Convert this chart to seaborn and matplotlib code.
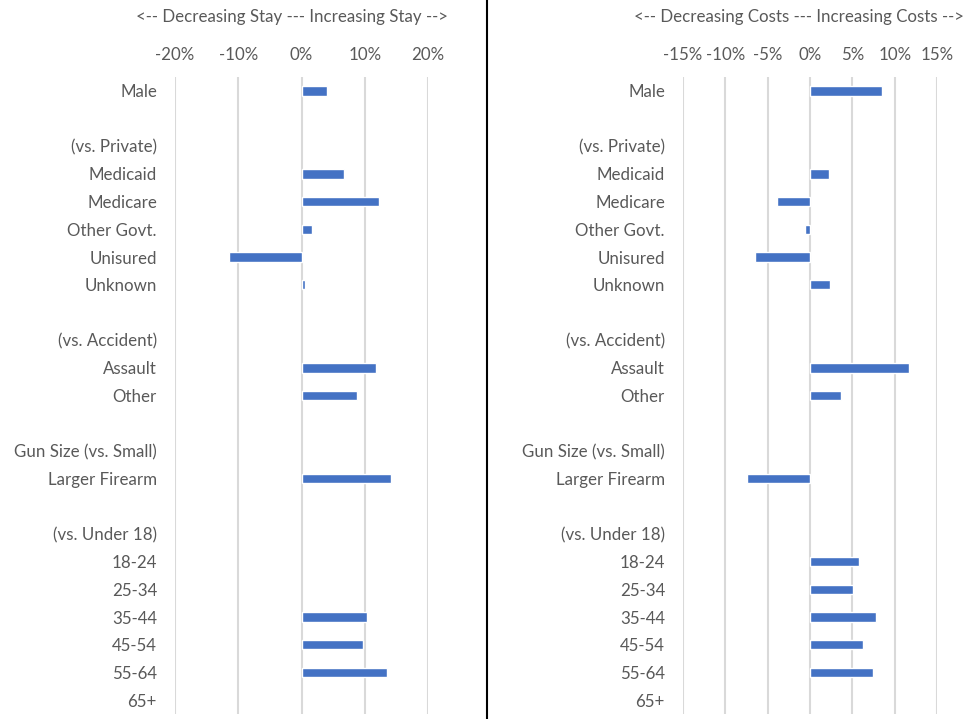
"""
Stay vs. cost effects — two horizontal bar panels
"""
import numpy as np
import pandas as pd
import matplotlib
matplotlib.use('Agg')
import matplotlib.pyplot as plt
import seaborn as sns
from matplotlib.lines import Line2D
from matplotlib.ticker import PercentFormatter

# row labels (blank rows need unique names)
labels = ['Male', ' ', '(vs. Private)', 'Medicaid', 'Medicare', 'Other Govt.',
          'Unisured', 'Unknown', '  ', '(vs. Accident)', 'Assault', 'Other',
          '   ', 'Gun Size (vs. Small)', 'Larger Firearm', '    ',
          '(vs. Under 18)', '18-24', '25-34', '35-44', '45-54', '55-64', '65+']

nan = np.nan
stay = [4.1, nan, nan, 6.7, 12.3, 1.6, -11.4, 0.5, nan, nan, 11.8, 8.7,
        nan, nan, 14.2, nan, nan, nan, nan, 10.3, 9.8, 13.5, nan]
costs = [8.5, nan, nan, 2.3, -3.9, -0.6, -6.5, 2.4, nan, nan, 11.7, 3.7,
         nan, nan, -7.4, nan, nan, 5.8, 5.1, 7.8, 6.3, 7.4, nan]

stay_ticks = [-20, -10, 0, 10, 20]
cost_ticks = [-15, -10, -5, 0, 5, 10, 15]

sns.set_style('white')
plt.rcParams['font.family'] = ['Lato', 'DejaVu Sans']
plt.rcParams['axes.unicode_minus'] = False

GRAY = '#595959'
BAR = '#4472C4'
FS = 12.2

fig = plt.figure(figsize=(9.64, 7.19), dpi=100)
W, H = 964, 719
top, bottom = 77, 714


def panel(left_px, right_px, vals, ticks, title, title_x):
    ax = fig.add_axes([left_px / W, 1 - bottom / H, (right_px - left_px) / W,
                       (bottom - top) / H])
    df = pd.DataFrame({'label': labels, 'value': vals})
    sns.barplot(data=df, x='value', y='label', order=labels, orient='h',
                color=BAR, width=0.34, saturation=1, ax=ax, zorder=3)
    ax.set_xlim(ticks[0], ticks[-1])
    ax.set_xticks(ticks)
    ax.xaxis.set_major_formatter(PercentFormatter(decimals=0))
    ax.xaxis.tick_top()
    ax.grid(axis='x', color='#d9d9d9', linewidth=1.5, zorder=0)
    ax.grid(axis='y', visible=False)
    for s in ax.spines.values():
        s.set_visible(False)
    ax.tick_params(axis='x', length=0, pad=10, labelsize=FS, labelcolor=GRAY)
    ax.tick_params(axis='y', length=0, pad=13, labelsize=FS, labelcolor=GRAY)
    ax.set_xlabel('')
    ax.set_ylabel('')
    ax.text(title_x, 1.094, title, transform=ax.transAxes, ha='center',
            va='center', fontsize=FS, color=GRAY)
    return ax


panel(175, 428, stay, stay_ticks,
      '<-- Decreasing Stay --- Increasing Stay -->', 0.464)
panel(683, 937, costs, cost_ticks,
      '<-- Decreasing Costs --- Increasing Costs -->', 0.457)

fig.add_artist(Line2D([487 / W, 487 / W], [0, 1], color='black', linewidth=1.5))

plt.savefig('out.png', dpi=100)
plt.close()
